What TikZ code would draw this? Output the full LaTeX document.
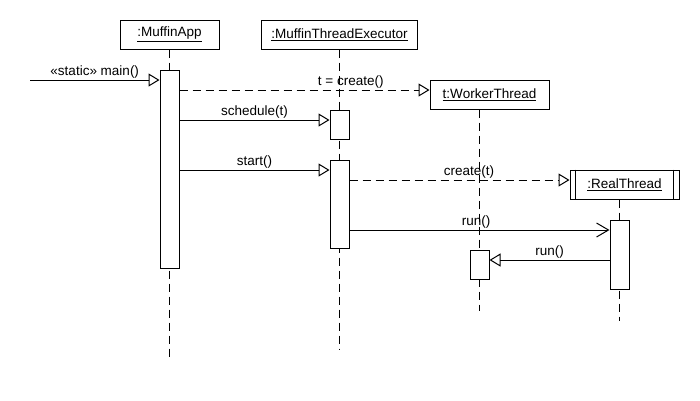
\documentclass[tikz,border=0pt]{standalone}
\usepackage{fontspec}
\setmainfont{Liberation Sans}
\usetikzlibrary{arrows.meta}

\begin{document}
\begin{tikzpicture}[x=1pt,y=-1pt,line width=1pt,
    >={Triangle[open,length=11pt,width=13pt]},
    every node/.style={font=\fontsize{13.5}{15}\selectfont},
    head node/.style={draw,minimum height=29pt,inner sep=0pt},
    act node/.style={draw,fill=white,minimum width=19pt,inner sep=0pt},
    life/.style={dash pattern=on 8pt off 5pt},
    call/.style={->},
    new/.style={->,dash pattern=on 8pt off 5pt},
    msg/.style={above,inner sep=1.5pt}]
    \useasboundingbox (0,0) rectangle (700,400);
    % objects
    \node[head node,minimum width=99pt] (app) at (169.5,34.5) {\underline{:MuffinApp}};
    \node[head node,minimum width=156pt] (exec) at (339.5,34.5) {\underline{:MuffinThreadExecutor}};
    \node[head node,minimum width=119pt] (worker) at (489.5,94.5) {\underline{t:WorkerThread}};
    \node[head node,minimum width=109pt] (real) at (624.5,184.5) {\underline{:RealThread}};
    \draw ([xshift=6pt]real.north west) -- ([xshift=6pt]real.south west);
    \draw ([xshift=-6pt]real.north east) -- ([xshift=-6pt]real.south east);
    % lifelines
    \coordinate (append) at (169.5,357);
    \coordinate (execend) at (339.5,349);
    \coordinate (workend) at (479.5,311);
    \coordinate (realend) at (619.5,321);
    \draw[life] (app.south) -- (append);
    \draw[life] (exec.south) -- (execend);
    \draw[life] (workend |- worker.south) -- (workend);
    \draw[life] (realend |- real.south) -- (realend);
    % activations
    \node[act node,minimum height=198pt] (appact) at (169.5,169) {};
    \node[act node,minimum height=29pt] (execact1) at (339.5,124.5) {};
    \node[act node,minimum height=88pt] (execact2) at (339.5,204) {};
    \node[act node,minimum height=29pt] (workact) at (479.5,264.5) {};
    \node[act node,minimum height=69pt] (realact) at (619.5,254.5) {};
    % messages
    \coordinate (mainstart) at (30,80);
    \draw[call] (mainstart) -- (appact.west |- mainstart) node[msg,midway] {«static» main()};
    \draw[new] (appact.east |- 0,90) -- (worker.west |- 0,90) node[msg,pos=.685] {t = create()};
    \draw[call] (appact.east |- 0,120) -- (execact1.west |- 0,120) node[msg,midway] {schedule(t)};
    \draw[call] (appact.east |- 0,170) -- (execact2.west |- 0,170) node[msg,midway] {start()};
    \draw[new] (execact2.east |- 0,180) -- (real.west |- 0,180) node[msg,pos=.543] {create(t)};
    \draw[-{Straight Barb[length=12pt,width=14pt]}] (execact2.east |- 0,230) -- (realact.west |- 0,230) node[msg,pos=.487] {run()};
    \draw[call] (realact.west |- 0,260) -- (workact.east |- 0,260) node[msg,midway] {run()};
\end{tikzpicture}
\end{document}
